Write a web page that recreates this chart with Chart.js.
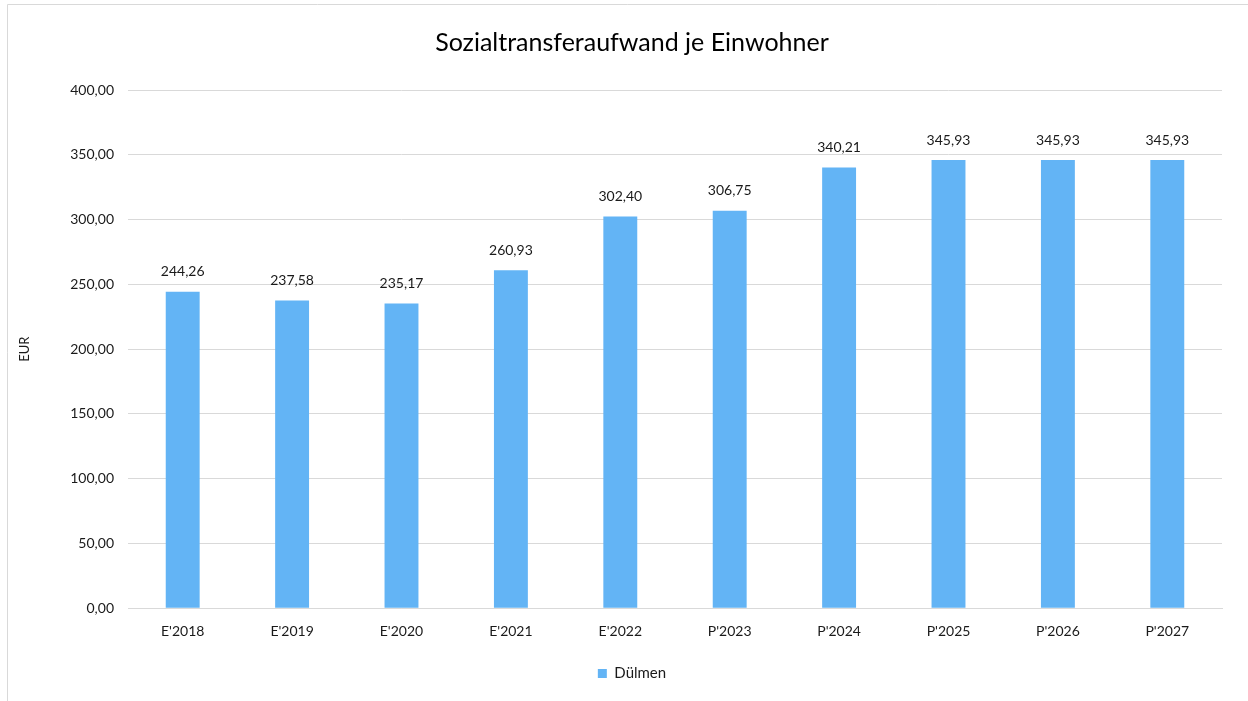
<!DOCTYPE html>
<html>
<head>
<meta charset="utf-8">
<script src="https://cdn.jsdelivr.net/npm/chart.js@4"></script>
<style>
  html, body { margin: 0; padding: 0; background: #fff; }
  #wrap { position: absolute; left: 0; top: 0; width: 1248px; height: 701px; }
</style>
</head>
<body>
<div id="wrap"><canvas id="c" width="1248" height="701"></canvas></div>
<script>
const categories = ["E'2018", "E'2019", "E'2020", "E'2021", "E'2022", "P'2023", "P'2024", "P'2025", "P'2026", "P'2027"];
const seriesName = "Dülmen";
const values = [244.26, 237.58, 235.17, 260.93, 302.40, 306.75, 340.21, 345.93, 345.93, 345.93];
const yTicks = [0, 50, 100, 150, 200, 250, 300, 350, 400];

const FONT = "Lato, 'Open Sans', sans-serif";
const fmt = v => v.toFixed(2).replace('.', ',');

const frame = {
  id: 'frame',
  beforeDraw(chart) {
    const ctx = chart.ctx;
    ctx.save();
    ctx.fillStyle = '#fff';
    ctx.fillRect(0, 0, chart.width, chart.height);
    ctx.strokeStyle = '#d9d9d9';
    ctx.lineWidth = 1;
    ctx.beginPath();
    ctx.moveTo(7.5, chart.height);
    ctx.lineTo(7.5, 4.5);
    ctx.lineTo(chart.width, 4.5);
    ctx.stroke();
    ctx.restore();
  }
};

const dataLabels = {
  id: 'dataLabels',
  afterDatasetsDraw(chart) {
    const ctx = chart.ctx;
    const meta = chart.getDatasetMeta(0);
    ctx.save();
    ctx.font = '14px ' + FONT;
    ctx.fillStyle = '#1a1a1a';
    ctx.textAlign = 'center';
    ctx.textBaseline = 'middle';
    meta.data.forEach((bar, i) => {
      ctx.fillText(fmt(chart.data.datasets[0].data[i]), bar.x, bar.y - 20);
    });
    ctx.restore();
  }
};

new Chart(document.getElementById('c'), {
  type: 'bar',
  data: {
    labels: categories,
    datasets: [{
      label: seriesName,
      data: values,
      backgroundColor: '#63B4F5',
      borderWidth: 0,
      barPercentage: 0.62,
      categoryPercentage: 0.5
    }]
  },
  options: {
    responsive: false,
    animation: false,
    layout: { padding: { left: 42, right: 26, top: 20, bottom: 10 } },
    plugins: {
      title: {
        display: true,
        text: 'Sozialtransferaufwand je Einwohner',
        color: '#000',
        font: { family: FONT, size: 25, weight: 'normal' },
        padding: { top: 8, bottom: 32 }
      },
      legend: {
        display: true,
        position: 'bottom',
        labels: {
          color: '#1a1a1a',
          font: { family: FONT, size: 15 },
          boxWidth: 9,
          boxHeight: 9,
          padding: 19
        }
      },
      tooltip: { enabled: false }
    },
    scales: {
      x: {
        grid: { display: false },
        border: { color: '#d9d9d9', width: 1 },
        ticks: {
          color: '#1a1a1a',
          font: { family: FONT, size: 14 },
          padding: 7,
          maxRotation: 0
        }
      },
      y: {
        min: 0,
        max: 400,
        afterBuildTicks(scale) { scale.ticks = yTicks.map(v => ({ value: v })); },
        afterFit(scale) { scale.width = 86; },
        grid: { color: '#d9d9d9', drawTicks: false },
        border: { display: false },
        ticks: {
          color: '#1a1a1a',
          font: { family: FONT, size: 14 },
          padding: 14,
          callback: v => fmt(v)
        },
        title: {
          display: true,
          text: 'EUR',
          color: '#1a1a1a',
          font: { family: FONT, size: 13 },
          padding: { top: -25, bottom: 0 }
        }
      }
    }
  },
  plugins: [frame, dataLabels]
});
</script>
</body>
</html>
